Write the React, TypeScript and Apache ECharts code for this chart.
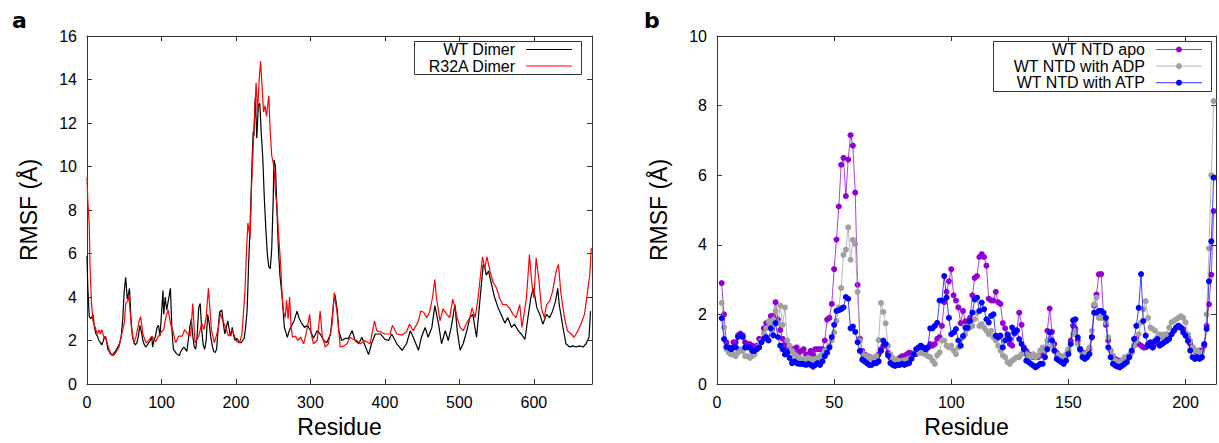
import React, { useEffect, useRef } from "react";
import * as echarts from "echarts";

// ---------- Panel a data: [residue, RMSF (Å)] ----------
const wtDimer: [number, number][] = [
  [0,5.9],[1,4.5],[3,3.1],[5,3.0],[7,3.1],[8,3.2],[10,2.6],[12,2.3],[14,2.2],[16,2.0],[18,1.9],[20,1.8],[22,2.0],[24,2.2],[26,2.0],[28,1.6],[30,1.5],[32,1.35],[34,1.35],[36,1.4],[40,1.6],[44,1.9],[46,2.2],[48,3.0],[50,4.3],[52,4.9],[54,3.9],[56,4.2],[57,4.4],[59,3.0],[61,2.2],[63,1.9],[65,1.8],[67,1.9],[69,2.2],[71,2.7],[73,2.4],[75,2.0],[77,1.8],[79,1.7],[81,1.8],[83,1.9],[85,2.0],[87,2.2],[88,1.7],[90,2.0],[92,2.2],[94,2.6],[96,2.7],[98,2.2],[100,3.2],[102,4.3],[103,3.2],[105,4.0],[107,3.4],[109,3.8],[112,4.4],[114,2.5],[116,1.6],[118,1.5],[120,1.4],[122,1.35],[124,1.3],[126,1.5],[128,1.6],[130,1.7],[132,1.6],[134,1.5],[136,2.0],[138,2.6],[140,3.0],[142,2.2],[144,1.7],[146,1.6],[148,2.3],[150,3.5],[152,3.7],[154,2.5],[156,1.8],[158,1.6],[160,2.0],[162,3.2],[164,2.8],[166,2.2],[168,1.8],[170,1.5],[172,1.45],[174,1.6],[176,2.5],[178,3.3],[181,3.4],[183,2.8],[185,2.3],[187,2.6],[189,2.9],[191,2.5],[193,2.2],[195,2.6],[197,2.2],[199,2.0],[201,2.1],[203,2.0],[205,1.9],[207,1.9],[209,2.0],[211,2.1],[213,2.6],[215,3.4],[217,5.5],[219,7.3],[221,9.5],[223,11.6],[224,11.4],[226,13.2],[228,11.3],[230,12.8],[232,12.9],[234,11.5],[236,10.4],[238,8.6],[240,7.2],[242,6.0],[244,5.4],[246,5.3],[248,6.2],[250,8.5],[251,10.3],[253,10.0],[255,8.0],[257,6.2],[259,5.0],[262,4.0],[265,2.6],[269,2.15],[272,2.5],[275,2.7],[278,2.9],[282,3.35],[285,3.0],[288,2.8],[292,2.6],[296,2.7],[300,2.45],[304,2.1],[309,2.45],[313,2.3],[318,2.0],[322,1.9],[327,2.3],[331,3.7],[333,4.1],[336,3.4],[338,2.45],[342,2.0],[347,2.1],[351,2.1],[356,2.45],[360,2.0],[365,1.85],[369,2.15],[374,1.7],[378,1.35],[382,1.85],[387,2.3],[394,2.3],[400,2.05],[405,2.0],[409,2.3],[416,1.85],[423,1.55],[429,1.85],[434,2.45],[438,2.15],[445,1.55],[449,2.15],[454,2.6],[458,2.15],[463,2.6],[467,3.6],[472,2.75],[476,1.85],[481,2.45],[485,2.0],[489,2.6],[494,3.65],[497,2.45],[501,1.55],[505,1.85],[510,2.45],[514,3.05],[518,3.2],[523,2.15],[527,3.65],[532,5.5],[534,5.35],[536,5.0],[539,5.2],[543,4.6],[547,4.0],[552,3.5],[556,3.2],[561,2.8],[565,3.05],[570,2.6],[574,2.75],[579,2.45],[583,2.3],[588,2.05],[592,3.05],[596,4.0],[599,4.4],[601,4.1],[604,3.5],[608,3.2],[612,2.75],[617,3.2],[621,3.05],[625,3.35],[629,3.8],[632,4.4],[634,3.65],[639,2.6],[643,1.85],[648,1.7],[652,1.75],[657,1.7],[661,1.75],[666,1.7],[670,1.85],[674,2.15],[676,3.35]
];

const r32aDimer: [number, number][] = [
  [0,9.5],[1,8.5],[3,7.3],[4,5.5],[6,3.7],[8,2.9],[11,2.6],[14,2.3],[16,2.5],[18,2.3],[20,2.5],[23,2.1],[25,2.2],[27,1.9],[29,1.65],[32,1.4],[35,1.3],[38,1.4],[43,1.7],[46,2.2],[50,2.8],[52,3.7],[55,3.85],[56,4.1],[57,3.7],[60,2.5],[63,1.9],[66,2.2],[70,2.9],[72,3.1],[75,2.3],[79,1.9],[83,2.0],[87,2.2],[92,1.95],[96,2.2],[100,2.4],[103,2.5],[106,3.1],[109,3.4],[112,2.8],[115,2.5],[119,1.9],[123,2.2],[128,2.2],[131,2.5],[134,2.35],[139,2.2],[142,3.7],[145,1.9],[150,2.2],[154,2.8],[157,2.5],[160,3.1],[163,4.4],[167,2.5],[171,1.9],[176,2.5],[179,3.25],[182,2.95],[186,2.6],[190,2.2],[195,2.5],[198,2.2],[201,1.95],[205,1.9],[208,2.3],[212,4.2],[214,6.0],[216,7.4],[219,6.7],[221,9.1],[224,11.6],[227,13.85],[229,12.5],[231,13.9],[233,14.85],[235,13.7],[237,12.5],[239,12.8],[241,12.3],[244,13.25],[246,11.6],[248,10.5],[251,10.0],[253,8.8],[255,8.2],[257,7.0],[260,5.5],[262,4.0],[264,3.3],[266,3.05],[268,3.85],[270,3.0],[272,4.0],[274,2.6],[276,2.15],[280,2.2],[283,2.0],[287,2.15],[291,1.85],[295,2.45],[299,3.2],[301,2.3],[304,1.85],[309,2.0],[313,3.35],[316,2.15],[320,1.7],[324,1.85],[329,2.75],[332,4.2],[336,3.2],[340,1.7],[345,1.75],[349,1.85],[353,2.15],[358,2.05],[362,2.0],[367,1.85],[373,2.0],[380,1.85],[386,2.9],[389,2.45],[394,2.4],[400,2.3],[407,2.3],[410,2.7],[416,2.3],[423,2.25],[429,2.4],[433,2.75],[438,2.45],[445,2.9],[448,3.35],[452,3.3],[456,3.05],[460,3.3],[464,4.0],[467,4.8],[469,4.0],[474,2.9],[478,3.45],[483,3.2],[487,3.05],[491,3.9],[494,3.5],[497,3.05],[501,2.6],[505,2.45],[509,2.75],[514,3.05],[517,3.5],[521,3.05],[525,3.95],[527,4.6],[531,5.85],[534,5.3],[537,5.85],[541,5.2],[545,4.7],[550,4.4],[554,3.95],[558,3.65],[563,3.65],[567,3.5],[572,3.2],[576,3.05],[581,3.65],[584,2.6],[590,3.95],[594,5.95],[597,4.7],[600,3.95],[603,5.8],[607,4.7],[610,3.5],[614,3.05],[617,3.65],[621,3.8],[625,4.25],[630,5.2],[633,5.5],[636,4.25],[641,3.05],[645,2.45],[650,2.3],[654,2.15],[659,2.45],[663,2.75],[668,3.2],[672,4.25],[675,5.0],[677,6.25]
];

// ---------- Panel b data: RMSF per residue, starting at residue 2 ----------
const NTD_FIRST_RESIDUE = 2;

const ntdApo: number[] = [
  2.9,2.0,1.2,1.0,0.95,1.2,1.2,1.4,1.45,1.4,1.2,1.15,1.15,1.1,1.0,1.1,1.3,1.25,1.6,1.75,
  1.7,1.95,1.95,2.35,1.85,1.55,1.3,1.15,1.0,0.95,1.0,1.0,1.05,0.9,0.95,1.0,0.85,0.85,0.95,0.85,
  1.0,1.0,1.0,1.0,1.25,1.85,1.9,2.3,3.3,4.15,5.1,6.3,6.5,5.4,6.45,7.15,6.85,5.5,2.85,1.3,
  0.95,0.85,0.8,0.78,0.75,0.75,0.78,0.85,1.0,1.1,1.1,0.9,0.75,0.7,0.68,0.7,0.75,0.8,0.8,0.85,
  0.9,0.88,0.86,0.86,0.95,0.95,0.95,0.95,1.05,1.15,1.1,1.15,1.3,1.35,1.67,2.35,2.65,2.95,3.3,2.55,
  2.4,2.2,1.75,2.1,1.8,1.8,1.9,2.55,3.05,3.1,3.65,3.73,3.65,3.4,2.45,2.4,2.4,2.65,2.35,2.3,
  1.75,1.6,1.35,1.15,1.1,1.45,1.55,2.05,1.7,1.05,0.95,0.86,0.82,0.77,0.77,0.77,0.82,0.86,1.0,1.53,
  2.17,1.5,1.15,0.9,0.82,0.77,0.77,0.82,0.96,1.25,1.67,1.58,1.25,1.0,0.91,0.86,0.91,1.0,1.35,2.25,
  2.57,3.15,3.16,1.95,1.7,1.25,0.96,0.77,0.72,0.67,0.67,0.67,0.72,0.77,0.82,0.91,1.1,1.3,1.15,1.1,
  1.05,1.05,1.15,1.1,1.05,1.15,1.2,1.15,1.15,1.25,1.29,1.34,1.43,1.53,1.62,1.67,1.62,1.58,1.43,1.34,
  1.15,1.05,0.96,0.86,0.96,0.96,1.1,1.67,2.29,3.14,4.97
];

const ntdAdp: number[] = [
  2.33,1.62,1.0,0.9,0.85,0.85,0.8,0.9,1.0,0.95,0.8,0.8,0.75,0.8,0.85,1.0,1.1,1.25,1.45,1.6,
  1.8,1.7,1.85,2.1,1.75,2.25,1.7,2.2,1.25,1.1,0.95,0.85,0.8,0.75,0.72,0.7,0.72,0.75,0.72,0.7,
  0.72,0.75,0.8,0.85,0.95,1.0,1.1,1.25,1.48,1.81,2.2,2.76,3.71,3.86,4.5,3.57,4.14,4.02,2.65,1.24,
  0.9,0.8,0.8,0.75,0.75,0.75,0.8,1.26,2.33,2.07,1.74,1.1,0.85,0.75,0.7,0.68,0.65,0.67,0.68,0.7,
  0.72,0.75,0.85,0.9,0.9,0.9,0.88,0.85,0.8,0.77,0.67,0.58,0.82,0.91,1.25,1.25,1.1,1.05,1.1,0.96,
  0.86,1.05,1.1,1.34,1.43,1.58,1.62,1.67,1.86,2.05,1.67,1.72,1.62,1.53,1.43,1.53,1.34,1.25,1.1,0.96,
  0.82,0.77,0.63,0.58,0.67,0.72,0.77,0.77,0.86,0.96,0.86,0.82,0.77,0.86,0.77,0.82,0.96,1.05,0.96,1.25,
  1.3,1.1,0.96,0.86,0.82,0.72,0.77,0.86,1.0,1.15,1.43,1.53,1.15,0.96,0.86,0.82,0.91,1.05,1.53,2.29,
  2.48,1.9,1.9,1.9,1.77,1.34,0.96,0.82,0.67,0.63,0.63,0.67,0.77,0.77,0.82,0.91,1.1,1.24,1.43,1.77,
  2.15,2.38,1.9,1.62,1.58,1.53,1.34,1.43,1.34,1.43,1.43,1.62,1.77,1.81,1.86,1.9,1.95,1.9,1.77,1.43,
  1.24,1.05,0.96,0.96,0.86,0.91,1.15,2.0,3.9,6.0,8.13
];

const ntdAtp: number[] = [
  1.89,1.29,1.07,1.05,1.0,1.05,1.05,1.35,1.4,1.35,1.05,1.05,1.05,0.95,0.95,1.0,1.05,1.2,1.3,1.35,
  1.25,1.6,1.4,1.75,1.35,1.1,1.0,0.85,0.9,0.75,0.6,0.65,0.6,0.58,0.58,0.57,0.55,0.58,0.55,0.5,
  0.55,0.6,0.55,0.65,0.8,0.9,1.05,1.35,1.7,2.1,2.12,2.15,2.2,2.5,2.45,1.6,1.65,1.5,1.2,0.95,
  0.7,0.65,0.6,0.55,0.55,0.6,0.6,0.65,0.95,1.25,1.15,0.82,0.6,0.55,0.52,0.55,0.55,0.58,0.55,0.58,
  0.6,0.72,0.85,1.0,1.05,1.1,1.05,1.0,1.05,1.6,1.6,1.67,1.76,2.4,2.4,3.1,2.48,1.9,1.43,1.48,
  1.58,1.25,1.1,1.38,1.62,1.62,1.81,2.05,2.43,2.48,2.1,2.34,2.15,1.86,1.77,1.96,2.0,1.39,1.34,1.39,
  1.05,1.25,1.43,1.29,1.62,1.48,1.53,1.29,1.15,1.0,0.67,0.63,0.58,0.53,0.48,0.53,0.58,0.58,0.77,1.0,
  1.48,1.25,0.96,0.72,0.67,0.63,0.58,0.67,0.86,1.15,1.83,1.86,1.34,1.0,0.77,0.72,0.77,0.86,1.34,2.05,
  2.05,2.1,2.1,2.05,1.9,1.05,0.77,0.58,0.53,0.5,0.48,0.53,0.58,0.63,0.77,0.96,1.29,1.67,2.19,3.16,
  1.81,1.39,1.1,1.2,1.05,1.24,1.29,1.1,1.15,1.2,1.24,1.29,1.43,1.53,1.62,1.67,1.62,1.48,1.39,1.24,
  0.96,0.77,0.72,0.77,0.72,0.77,1.15,1.58,2.95,4.1,5.93
];

const dimerNames = ["WT Dimer", "R32A Dimer"];
const ntdNames = ["WT NTD apo", "WT NTD with ADP", "WT NTD with ATP"];

const xTicksA = { min: 0, max: 678, interval: 100 };
const yTicksA = { min: 0, max: 16, interval: 2 };
const xTicksB = { min: 0, max: 213, interval: 50 };
const yTicksB = { min: 0, max: 10, interval: 2 };

const FONT = "'Liberation Sans', Arial, Helvetica, sans-serif";
const AXIS_COLOR = "#333";
const DIMER_COLORS = ["#000000", "#ff0000"];
const NTD_COLORS = ["#9400d3", "#a0a0a0", "#0000ff"];

function toPairs(values: number[]): [number, number][] {
  return values.map((v, i) => [NTD_FIRST_RESIDUE + i, v]);
}

function makeAxis(opts: {
  gridIndex: number;
  position: string;
  ticks: { min: number; max: number; interval: number };
  showLabels: boolean;
  name?: string;
  nameGap?: number;
}) {
  const { gridIndex, position, ticks, showLabels, name, nameGap } = opts;
  return {
    gridIndex,
    type: "value",
    position,
    min: ticks.min,
    max: ticks.max,
    interval: ticks.interval,
    name: name || "",
    nameLocation: "middle",
    nameGap: nameGap || 0,
    nameTextStyle: { fontFamily: FONT, fontSize: 23, color: "#000" },
    axisLine: { show: true, onZero: false, lineStyle: { color: AXIS_COLOR, width: 1 } },
    axisTick: { show: true, inside: true, length: 5, lineStyle: { color: AXIS_COLOR, width: 1 } },
    axisLabel: {
      show: showLabels,
      fontFamily: FONT,
      fontSize: 16,
      color: "#000",
      margin: 10,
      formatter: (v: number) => (v % ticks.interval === 0 ? String(v) : ""),
    },
    splitLine: { show: false },
  };
}

export default function App() {
  const ref = useRef<HTMLDivElement>(null);

  useEffect(() => {
    if (!ref.current) return;
    const chart = echarts.init(ref.current, null, { renderer: "svg" });

    const legendA: any[] = [
      {
        type: "rect",
        shape: { x: 414.5, y: 41.5, width: 167, height: 33 },
        style: { fill: "#fff", stroke: AXIS_COLOR, lineWidth: 1 },
        z: 100,
      },
    ];
    dimerNames.forEach((nm, i) => {
      const y = 49.5 + i * 16.5;
      legendA.push({
        type: "text",
        x: 515,
        y,
        z: 101,
        style: { text: nm, fontFamily: FONT, fontSize: 16, fill: "#000", align: "right", verticalAlign: "middle" },
      });
      legendA.push({
        type: "line",
        z: 101,
        shape: { x1: 526, y1: y, x2: 572, y2: y },
        style: { stroke: DIMER_COLORS[i], lineWidth: 1.2 },
      });
    });

    const legendB: any[] = [
      {
        type: "rect",
        shape: { x: 993.5, y: 41.5, width: 218, height: 50 },
        style: { fill: "#fff", stroke: AXIS_COLOR, lineWidth: 1 },
        z: 100,
      },
    ];
    ntdNames.forEach((nm, i) => {
      const y = 49.5 + i * 16.6;
      legendB.push({
        type: "text",
        x: 1145,
        y,
        z: 101,
        style: { text: nm, fontFamily: FONT, fontSize: 16, fill: "#000", align: "right", verticalAlign: "middle" },
      });
      legendB.push({
        type: "line",
        z: 101,
        shape: { x1: 1156, y1: y, x2: 1202, y2: y },
        style: { stroke: NTD_COLORS[i], lineWidth: 1, opacity: 0.8 },
      });
      legendB.push({
        type: "circle",
        z: 102,
        shape: { cx: 1179, cy: y, r: 3 },
        style: { fill: NTD_COLORS[i] },
      });
    });

    const ntdSeriesData = [ntdApo, ntdAdp, ntdAtp];

    chart.setOption({
      animation: false,
      backgroundColor: "#fff",
      grid: [
        { left: 87, right: 627, top: 36, bottom: 56, containLabel: false },
        { left: 717, right: 2, top: 36, bottom: 56, containLabel: false },
      ],
      xAxis: [
        makeAxis({ gridIndex: 0, position: "bottom", ticks: xTicksA, showLabels: true, name: "Residue", nameGap: 31 }),
        makeAxis({ gridIndex: 0, position: "top", ticks: xTicksA, showLabels: false }),
        makeAxis({ gridIndex: 1, position: "bottom", ticks: xTicksB, showLabels: true, name: "Residue", nameGap: 31 }),
        makeAxis({ gridIndex: 1, position: "top", ticks: xTicksB, showLabels: false }),
      ],
      yAxis: [
        makeAxis({ gridIndex: 0, position: "left", ticks: yTicksA, showLabels: true, name: "RMSF (Å)", nameGap: 47 }),
        makeAxis({ gridIndex: 0, position: "right", ticks: yTicksA, showLabels: false }),
        makeAxis({ gridIndex: 1, position: "left", ticks: yTicksB, showLabels: true, name: "RMSF (Å)", nameGap: 47 }),
        makeAxis({ gridIndex: 1, position: "right", ticks: yTicksB, showLabels: false }),
      ],
      series: [
        ...[wtDimer, r32aDimer].map((d, i) => ({
          name: dimerNames[i],
          type: "line",
          xAxisIndex: 0,
          yAxisIndex: 0,
          data: d,
          symbol: "none",
          showSymbol: false,
          lineStyle: { color: DIMER_COLORS[i], width: 1.2 },
          itemStyle: { color: DIMER_COLORS[i] },
          z: 2 + i,
        })),
        ...ntdSeriesData.map((vals, i) => ({
          name: ntdNames[i],
          type: "line",
          xAxisIndex: 2,
          yAxisIndex: 2,
          data: toPairs(vals),
          symbol: "circle",
          symbolSize: 6,
          showSymbol: true,
          showAllSymbol: true,
          lineStyle: { color: NTD_COLORS[i], width: 1, opacity: 0.75 },
          itemStyle: { color: NTD_COLORS[i] },
          z: 2 + i,
        })),
      ],
      graphic: [
        {
          type: "text",
          x: 12,
          y: 20,
          style: { text: "a", fontFamily: "'DejaVu Sans', sans-serif", fontWeight: "bold", fontSize: 22, fill: "#000", verticalAlign: "middle" },
        },
        {
          type: "text",
          x: 644,
          y: 20,
          style: { text: "b", fontFamily: "'DejaVu Sans', sans-serif", fontWeight: "bold", fontSize: 22, fill: "#000", verticalAlign: "middle" },
        },
        ...legendA,
        ...legendB,
      ],
    });

    return () => chart.dispose();
  }, []);

  return (
    <div
      ref={ref}
      style={{ position: "fixed", left: 0, top: 0, width: 1219, height: 443, background: "#fff" }}
    />
  );
}
